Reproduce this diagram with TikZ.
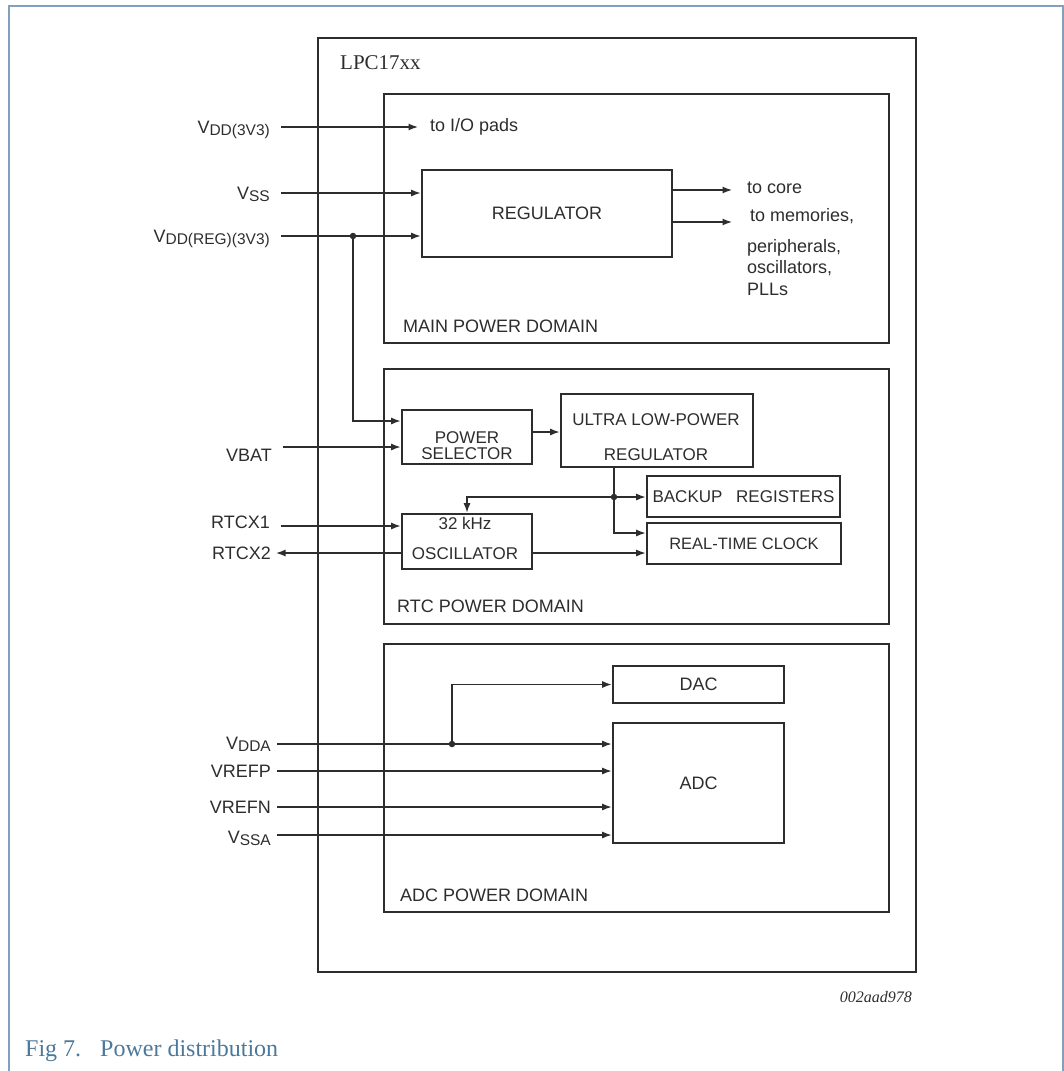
\documentclass[tikz,border=0pt]{standalone}
\usepackage{fontspec}
\setmainfont{Liberation Serif}
\setsansfont{Liberation Sans}
\usetikzlibrary{arrows.meta}

\definecolor{ink}{RGB}{45,45,45}
\definecolor{framec}{RGB}{130,160,185}
\definecolor{capc}{RGB}{75,120,155}

\newcommand{\lowtxt}[1]{\raisebox{-1.5pt}{\fontsize{15.5}{15.5}\selectfont #1}}

\begin{document}
\begin{tikzpicture}[x=1pt, y=-1pt,
        every node/.style={text=ink, inner sep=0pt, font=\sffamily\fontsize{18}{21.5}\selectfont},
        blk/.style={draw=ink, line width=2.6pt},
        dom/.style={draw=ink, line width=2.6pt},
        pin/.style={anchor=east, inner xsep=11pt, text height=13pt, text depth=0pt},
        sig/.style={draw=ink, line width=1.4pt, -{Latex[length=9.5pt,width=7pt]}},
        dot/.style={circle, fill=ink, minimum size=6.5pt}]
        \useasboundingbox (0,0) rectangle (1064,1071);

        \draw[framec, line width=2pt] (9,1071) -- (9,5.5) -- (1062.5,5.5) -- (1062.5,1071);

        \node[dom, minimum width=598pt, minimum height=934pt] (lpc) at (617, 505) {};
        \node[anchor=west, font=\rmfamily\fontsize{21}{21}\selectfont] (lpcname) at (340, 63) {LPC17xx};

        \node[dom, minimum width=505pt, minimum height=249pt] (maindom) at (636.5, 218.5) {};
        \node[dom, minimum width=505pt, minimum height=255pt] (rtcdom) at (636.5, 496.5) {};
        \node[dom, minimum width=505pt, minimum height=268pt] (adcdom) at (636.5, 778) {};
        \node[anchor=west] (mainname) at (403, 326) {MAIN POWER DOMAIN};
        \node[anchor=west] (rtcname) at (397, 606) {RTC POWER DOMAIN};
        \node[anchor=west] (adcname) at (400, 895) {ADC POWER DOMAIN};

        % main power domain
        \node[pin] (vdd) at (281, 127) {V\lowtxt{DD(3V3)}};
        \node[pin] (vss) at (281, 193) {V\lowtxt{SS}};
        \node[pin] (vreg) at (281, 236) {V\lowtxt{DD(REG)(3V3)}};

        \node[blk, minimum width=250pt, minimum height=87pt] (reg) at (547, 213.5) {REGULATOR};
        \node[anchor=west, inner xsep=12pt] (pads) at (418, 127) {to I/O pads};
        \node[anchor=west, inner xsep=15pt] (core) at (732, 188) {to core};
        \node[anchor=west, inner xsep=18pt] (mem) at (732, 216) {to memories,};
        \node[anchor=north west, align=left] (more) at (747, 239) {peripherals,\\oscillators,\\PLLs};

        \node[dot] (jreg) at (353, 236) {};

        \draw[sig] (vdd) -- (pads.west);
        \draw[sig] (vss) -- (reg.west |- vss);
        \draw[sig] (vreg) -- (reg.west |- vreg);
        \draw[sig] (reg.east |- 0,190) -- (core.west |- 0,190);
        \draw[sig] (reg.east |- 0,222) -- (mem.west |- 0,222);

        % rtc power domain
        \node[pin] (vbat) at (283, 455) {VBAT};
        \node[pin] (rtcx1) at (281, 522) {RTCX1};
        \node[pin, inner xsep=5pt] (rtcx2) at (276, 553) {RTCX2};

        \node[blk, minimum width=130pt, minimum height=54pt] (psel) at (467, 437) {};
        \node[align=center, font=\sffamily\fontsize{17}{16}\selectfont] (pseltxt) at (467, 446) {POWER\\SELECTOR};
        \node[blk, minimum width=192pt, minimum height=73pt] (ulp) at (657, 430.5) {};
        \node[align=center, font=\sffamily\fontsize{17}{35}\selectfont] (ulptxt) at (656, 437.5) {ULTRA LOW-POWER\\REGULATOR};
        \node[blk, minimum width=193pt, minimum height=41pt, font=\sffamily\fontsize{17}{17}\selectfont] (bkp) at (743.5, 496.5) {BACKUP\hspace{9pt} REGISTERS};
        \node[blk, minimum width=194pt, minimum height=41pt, font=\sffamily\fontsize{16.5}{16.5}\selectfont] (rtc) at (744, 543.5) {REAL-TIME CLOCK};
        \node[blk, minimum width=130pt, minimum height=55pt] (osc) at (467, 541.5) {};
        \node[align=center, font=\sffamily\fontsize{17}{30}\selectfont] (osctxt) at (465, 538) {32 kHz\\OSCILLATOR};

        \node[dot] (jbkp) at (614, 497) {};

        \draw[sig] (jreg) |- (psel.west |- 0,421);
        \draw[sig] (vbat.east |- 0,447) -- (psel.west |- 0,447);
        \draw[sig] (psel.east |- 0,432) -- (ulp.west |- 0,432);
        \draw[sig] (ulp.south -| 614,0) |- (rtc.west |- 0,533);
        \draw[sig] (jbkp) -- (bkp.west |- jbkp);
        \draw[sig] (jbkp) -| (osc.north);
        \draw[sig] (rtcx1.east |- 0,526) -- (osc.west |- 0,526);
        \draw[sig] (osc.west |- rtcx2) -- (rtcx2);
        \draw[sig] (osc.east |- 0,553) -- (rtc.west |- 0,553);

        % adc power domain
        \node[pin, inner xsep=6pt] (vdda) at (277, 743) {V\lowtxt{DDA}};
        \node[pin, inner xsep=6pt] (vrefp) at (277, 771) {VREFP};
        \node[pin, inner xsep=6pt] (vrefn) at (277, 807) {VREFN};
        \node[pin, inner xsep=6pt] (vssa) at (277, 837) {V\lowtxt{SSA}};

        \node[blk, minimum width=171pt, minimum height=37pt] (dac) at (698.5, 684.5) {DAC};
        \node[blk, minimum width=171pt, minimum height=120pt] (adc) at (698.5, 783) {ADC};

        \node[dot] (jdda) at (452, 744) {};

        \draw[sig] (vdda.east |- 0,744) -- (adc.west |- 0,744);
        \draw[sig] (jdda) |- (dac.west);
        \draw[sig] (vrefp) -- (adc.west |- vrefp);
        \draw[sig] (vrefn) -- (adc.west |- vrefn);
        \draw[sig] (vssa.east |- 0,835) -- (adc.west |- 0,835);

        \node[anchor=east, font=\rmfamily\itshape\fontsize{16}{16}\selectfont] (figid) at (912, 997) {002aad978};
        \node[anchor=west, font=\rmfamily\fontsize{24}{24}\selectfont, text=capc] (caption) at (25, 1051) {Fig 7.\hspace{19pt}Power distribution};
    \end{tikzpicture}
\end{document}
